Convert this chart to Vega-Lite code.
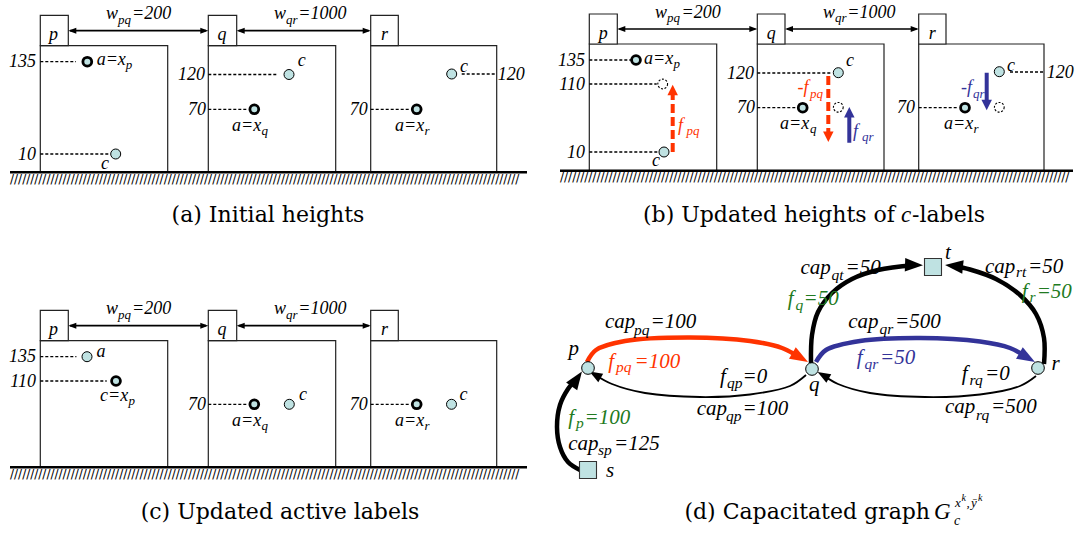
{
"$schema":"https://vega.github.io/schema/vega-lite/v6.json",
"width":1081,"height":534,"padding":0,"autosize":{"type":"none"},
"background":"#ffffff",
"config":{"view":{"stroke":null}},
"datasets":{
"boxes":[
{"x":40.3,"x2":167.7,"y":45.7,"y2":172.3},{"x":40.3,"x2":68.3,"y":15.3,"y2":45.7},
{"x":208.3,"x2":335.7,"y":45.7,"y2":172.3},{"x":208.3,"x2":236.7,"y":15.3,"y2":45.7},
{"x":370.7,"x2":496.7,"y":45.7,"y2":172.3},{"x":370.7,"x2":398.3,"y":15.3,"y2":45.7},
{"x":589.3,"x2":716.7,"y":44,"y2":170.7},{"x":589.3,"x2":617.3,"y":14,"y2":44},
{"x":757.3,"x2":884,"y":44,"y2":170.7},{"x":757.3,"x2":785,"y":14,"y2":44},
{"x":918.7,"x2":1044,"y":44,"y2":170.7},{"x":918.7,"x2":946,"y":14,"y2":44},
{"x":40.3,"x2":167.7,"y":340.7,"y2":467.3},{"x":40.3,"x2":68.3,"y":310.3,"y2":340.7},
{"x":208.3,"x2":335.7,"y":340.7,"y2":467.3},{"x":208.3,"x2":236.7,"y":310.3,"y2":340.7},
{"x":370.7,"x2":496.7,"y":340.7,"y2":467.3},{"x":370.7,"x2":398.3,"y":310.3,"y2":340.7}
],
"ground":[{"x":10,"x2":527,"y":172.3},{"x":560,"x2":1073,"y":170.7},{"x":10,"x2":527,"y":467.3}],
"dotted":[
{"x":40.3,"x2":76,"y":61.7},{"x":40.3,"x2":110,"y":154},{"x":208.3,"x2":277,"y":74.5},{"x":208.3,"x2":246.7,"y":109.3},{"x":370.7,"x2":410,"y":109.3},{"x":461.7,"x2":496.7,"y":74},
{"x":589.3,"x2":631,"y":60},{"x":589.3,"x2":656.7,"y":84},{"x":589.3,"x2":658,"y":152},{"x":757.3,"x2":831.7,"y":73},{"x":757.3,"x2":796.7,"y":107.7},{"x":918.7,"x2":958.3,"y":107.7},{"x":1010,"x2":1044,"y":72},
{"x":40.3,"x2":76.4,"y":356.7},{"x":40.3,"x2":106.7,"y":381},{"x":208.3,"x2":246.7,"y":404.3},{"x":370.7,"x2":410,"y":404.3}
],
"wlines":[
{"x":70,"x2":206,"y":30.7},{"x":238.7,"x2":368.7,"y":30.7},
{"x":619.3,"x2":755.3,"y":29},{"x":787,"x2":916.7,"y":29},
{"x":70,"x2":206,"y":325.7},{"x":238.7,"x2":368.7,"y":325.7}
],
"flows":[
{"x":672.7,"y":152,"y2":95,"c":"fpq","ls":"dash"},
{"x":828.3,"y":76,"y2":132,"c":"fpq","ls":"dash"},
{"x":849.3,"y":142.7,"y2":116,"c":"fqr","ls":"solid"},
{"x":986.7,"y":72.7,"y2":101,"c":"fqr","ls":"solid"}
],
"edges":[
{"e":"sp","o":1,"x":580,"y":470,"c":"base","wt":"heavy"},{"e":"sp","o":2,"x":568,"y":462,"c":"base","wt":"heavy"},{"e":"sp","o":3,"x":560,"y":447,"c":"base","wt":"heavy"},{"e":"sp","o":4,"x":557,"y":427,"c":"base","wt":"heavy"},{"e":"sp","o":5,"x":560,"y":405,"c":"base","wt":"heavy"},{"e":"sp","o":6,"x":568,"y":389,"c":"base","wt":"heavy"},{"e":"sp","o":7,"x":576.5,"y":379,"c":"base","wt":"heavy"},
{"e":"pq","o":1,"x":587,"y":362,"c":"fpq","wt":"heavy"},{"e":"pq","o":2,"x":596,"y":350,"c":"fpq","wt":"heavy"},{"e":"pq","o":3,"x":625,"y":341,"c":"fpq","wt":"heavy"},{"e":"pq","o":4,"x":690,"y":337.5,"c":"fpq","wt":"heavy"},{"e":"pq","o":5,"x":750,"y":341,"c":"fpq","wt":"heavy"},{"e":"pq","o":6,"x":782,"y":348,"c":"fpq","wt":"heavy"},{"e":"pq","o":7,"x":800.2,"y":357.5,"c":"fpq","wt":"heavy"},
{"e":"qp","o":1,"x":806,"y":375,"c":"base","wt":"light"},{"e":"qp","o":2,"x":790,"y":386,"c":"base","wt":"light"},{"e":"qp","o":3,"x":750,"y":394.5,"c":"base","wt":"light"},{"e":"qp","o":4,"x":700,"y":397,"c":"base","wt":"light"},{"e":"qp","o":5,"x":645,"y":393,"c":"base","wt":"light"},{"e":"qp","o":6,"x":612,"y":384,"c":"base","wt":"light"},{"e":"qp","o":7,"x":595,"y":374.7,"c":"base","wt":"light"},
{"e":"qr","o":1,"x":816,"y":362,"c":"fqr","wt":"heavy"},{"e":"qr","o":2,"x":826,"y":350,"c":"fqr","wt":"heavy"},{"e":"qr","o":3,"x":860,"y":341,"c":"fqr","wt":"heavy"},{"e":"qr","o":4,"x":920,"y":338,"c":"fqr","wt":"heavy"},{"e":"qr","o":5,"x":980,"y":341.5,"c":"fqr","wt":"heavy"},{"e":"qr","o":6,"x":1010,"y":348,"c":"fqr","wt":"heavy"},{"e":"qr","o":7,"x":1027.2,"y":357.5,"c":"fqr","wt":"heavy"},
{"e":"rq","o":1,"x":1036,"y":376,"c":"base","wt":"light"},{"e":"rq","o":2,"x":1020,"y":386,"c":"base","wt":"light"},{"e":"rq","o":3,"x":980,"y":394.5,"c":"base","wt":"light"},{"e":"rq","o":4,"x":925,"y":397,"c":"base","wt":"light"},{"e":"rq","o":5,"x":870,"y":393,"c":"base","wt":"light"},{"e":"rq","o":6,"x":838,"y":384,"c":"base","wt":"light"},{"e":"rq","o":7,"x":823,"y":375.2,"c":"base","wt":"light"},
{"e":"qt","o":1,"x":811,"y":363,"c":"base","wt":"heavy"},{"e":"qt","o":2,"x":812,"y":335,"c":"base","wt":"heavy"},{"e":"qt","o":3,"x":818,"y":312,"c":"base","wt":"heavy"},{"e":"qt","o":4,"x":832,"y":293,"c":"base","wt":"heavy"},{"e":"qt","o":5,"x":852,"y":279,"c":"base","wt":"heavy"},{"e":"qt","o":6,"x":878,"y":270,"c":"base","wt":"heavy"},{"e":"qt","o":7,"x":914,"y":265.3,"c":"base","wt":"heavy"},
{"e":"rt","o":1,"x":1044,"y":364,"c":"base","wt":"heavy"},{"e":"rt","o":2,"x":1044,"y":338,"c":"base","wt":"heavy"},{"e":"rt","o":3,"x":1036,"y":314,"c":"base","wt":"heavy"},{"e":"rt","o":4,"x":1020,"y":295,"c":"base","wt":"heavy"},{"e":"rt","o":5,"x":996,"y":279,"c":"base","wt":"heavy"},{"e":"rt","o":6,"x":970,"y":269.5,"c":"base","wt":"heavy"},{"e":"rt","o":7,"x":954,"y":266,"c":"base","wt":"heavy"}
],
"heads":[
{"x":72.3,"y":30.7,"ang":270,"hk":"w","c":"base"},{"x":204.3,"y":30.7,"ang":90,"hk":"w","c":"base"},{"x":240.7,"y":30.7,"ang":270,"hk":"w","c":"base"},{"x":366.7,"y":30.7,"ang":90,"hk":"w","c":"base"},
{"x":621.3,"y":29,"ang":270,"hk":"w","c":"base"},{"x":753.3,"y":29,"ang":90,"hk":"w","c":"base"},{"x":789,"y":29,"ang":270,"hk":"w","c":"base"},{"x":914.7,"y":29,"ang":90,"hk":"w","c":"base"},
{"x":72.3,"y":325.7,"ang":270,"hk":"w","c":"base"},{"x":204.3,"y":325.7,"ang":90,"hk":"w","c":"base"},{"x":240.7,"y":325.7,"ang":270,"hk":"w","c":"base"},{"x":366.7,"y":325.7,"ang":90,"hk":"w","c":"base"},
{"x":576.8,"y":378.9,"ang":35,"hk":"big","c":"base"},
{"x":800.2,"y":357.5,"ang":120,"hk":"big","c":"fpq"},
{"x":1027.2,"y":357.5,"ang":120,"hk":"big","c":"fqr"},
{"x":914,"y":265,"ang":92,"hk":"big","c":"base"},
{"x":954,"y":266,"ang":276,"hk":"big","c":"base"},
{"x":595.1,"y":374.7,"ang":300,"hk":"thin","c":"base"},
{"x":823.2,"y":375.2,"ang":300,"hk":"thin","c":"base"}
],
"fheads":[
{"x":672.7,"y":90,"ang":0,"c":"fpq"},{"x":828.3,"y":136.7,"ang":180,"c":"fpq"},
{"x":849.3,"y":112.3,"ang":0,"c":"fqr"},{"x":986.7,"y":105,"ang":180,"c":"fqr"}
],
"dots":[
{"x":87.3,"y":61.7,"k":"act"},{"x":115.7,"y":154,"k":"pl"},{"x":289,"y":74.5,"k":"pl"},{"x":254.3,"y":109.3,"k":"act"},{"x":451.7,"y":74,"k":"pl"},{"x":416.7,"y":109.3,"k":"act"},
{"x":636,"y":60,"k":"act"},{"x":662.7,"y":84,"k":"gh"},{"x":664,"y":152,"k":"pl"},{"x":838.3,"y":72.7,"k":"pl"},{"x":802.7,"y":107.7,"k":"act"},{"x":838.3,"y":107.3,"k":"gh"},{"x":965,"y":107.7,"k":"act"},{"x":999.3,"y":71.7,"k":"pl"},{"x":999.3,"y":107.3,"k":"gh"},
{"x":87,"y":356.7,"k":"pl"},{"x":116,"y":381,"k":"act"},{"x":254.3,"y":404.3,"k":"act"},{"x":289.3,"y":404.3,"k":"pl"},{"x":416.7,"y":404.3,"k":"act"},{"x":451.5,"y":404.3,"k":"pl"},
{"x":588,"y":368,"k":"node"},{"x":812,"y":369,"k":"node"},{"x":1038,"y":368,"k":"node"}
],
"squares":[{"x":588,"y":470},{"x":933,"y":267}],
"texts":[
{"x":53.5,"y":40,"t":"p","r":"b"},{"x":222,"y":40,"t":"q","r":"b"},{"x":384.5,"y":40,"t":"r","r":"b"},
{"x":106,"y":19,"t":"w","r":"m"},{"x":118,"y":23.5,"t":"pq","r":"s"},{"x":132,"y":19,"t":"=200","r":"m"},
{"x":274,"y":19,"t":"w","r":"m"},{"x":286,"y":23.5,"t":"qr","r":"s"},{"x":298.3,"y":19,"t":"=1000","r":"m"},
{"x":36,"y":67.3,"t":"135","r":"n"},{"x":36,"y":159.8,"t":"10","r":"n"},
{"x":205,"y":80.3,"t":"120","r":"n"},{"x":206,"y":115,"t":"70","r":"n"},{"x":367.7,"y":115,"t":"70","r":"n"},
{"x":497.7,"y":79.8,"t":"120","r":"m"},
{"x":96.7,"y":65,"t":"a=x","r":"m"},{"x":125.8,"y":69,"t":"p","r":"s"},
{"x":101,"y":168.5,"t":"c","r":"m"},
{"x":297.7,"y":66,"t":"c","r":"m"},
{"x":232,"y":130.5,"t":"a=x","r":"m"},{"x":261.5,"y":134.5,"t":"q","r":"s"},
{"x":460,"y":71.5,"t":"c","r":"m"},
{"x":395,"y":130.5,"t":"a=x","r":"m"},{"x":424.5,"y":134.5,"t":"r","r":"s"},
{"x":603.3,"y":38.5,"t":"p","r":"b"},{"x":771.2,"y":38.5,"t":"q","r":"b"},{"x":932.3,"y":38.5,"t":"r","r":"b"},
{"x":655,"y":17.5,"t":"w","r":"m"},{"x":667,"y":22,"t":"pq","r":"s"},{"x":681.5,"y":17.5,"t":"=200","r":"m"},
{"x":823,"y":17.5,"t":"w","r":"m"},{"x":835,"y":22,"t":"qr","r":"s"},{"x":847.3,"y":17.5,"t":"=1000","r":"m"},
{"x":585,"y":65.6,"t":"135","r":"n"},{"x":585,"y":89.6,"t":"110","r":"n"},{"x":585,"y":157.6,"t":"10","r":"n"},
{"x":644,"y":63.5,"t":"a=x","r":"m"},{"x":673.5,"y":67.5,"t":"p","r":"s"},
{"x":652,"y":166,"t":"c","r":"m"},
{"x":678,"y":131,"t":"f","r":"m","c":"fpq"},{"x":686.5,"y":135,"t":"pq","r":"s","c":"fpq"},
{"x":754,"y":78.6,"t":"120","r":"n"},{"x":755,"y":113.3,"t":"70","r":"n"},
{"x":846,"y":66,"t":"c","r":"m"},
{"x":780,"y":129,"t":"a=x","r":"m"},{"x":810,"y":133,"t":"q","r":"s"},
{"x":797.5,"y":93,"t":"-f","r":"m","c":"fpq"},{"x":810,"y":97.5,"t":"pq","r":"s","c":"fpq"},
{"x":853,"y":137,"t":"f","r":"m","c":"fqr"},{"x":862,"y":141,"t":"qr","r":"s","c":"fqr"},
{"x":915,"y":113.3,"t":"70","r":"n"},
{"x":944,"y":129,"t":"a=x","r":"m"},{"x":973.5,"y":133,"t":"r","r":"s"},
{"x":961,"y":93,"t":"-f","r":"m","c":"fqr"},{"x":973,"y":97.5,"t":"qr","r":"s","c":"fqr"},
{"x":1007,"y":70.5,"t":"c","r":"m"},
{"x":1046.7,"y":77.6,"t":"120","r":"m"},
{"x":53.5,"y":335,"t":"p","r":"b"},{"x":222,"y":335,"t":"q","r":"b"},{"x":384.5,"y":335,"t":"r","r":"b"},
{"x":106,"y":314,"t":"w","r":"m"},{"x":118,"y":318.5,"t":"pq","r":"s"},{"x":132,"y":314,"t":"=200","r":"m"},
{"x":274,"y":314,"t":"w","r":"m"},{"x":286,"y":318.5,"t":"qr","r":"s"},{"x":298.3,"y":314,"t":"=1000","r":"m"},
{"x":36,"y":362.3,"t":"135","r":"n"},{"x":36,"y":386.6,"t":"110","r":"n"},
{"x":96.5,"y":357,"t":"a","r":"m"},
{"x":100,"y":401,"t":"c=x","r":"m"},{"x":128.5,"y":405,"t":"p","r":"s"},
{"x":206,"y":410,"t":"70","r":"n"},
{"x":232,"y":425.5,"t":"a=x","r":"m"},{"x":261.5,"y":429.5,"t":"q","r":"s"},
{"x":299,"y":400,"t":"c","r":"m"},
{"x":367.7,"y":410,"t":"70","r":"n"},
{"x":395,"y":425.5,"t":"a=x","r":"m"},{"x":424.5,"y":429.5,"t":"r","r":"s"},
{"x":459.5,"y":400,"t":"c","r":"m"},
{"x":568.5,"y":355,"t":"p","r":"M"},{"x":809,"y":390.5,"t":"q","r":"M"},{"x":1051.5,"y":370,"t":"r","r":"M"},{"x":606,"y":477,"t":"s","r":"M"},{"x":945,"y":258.5,"t":"t","r":"M"},
{"x":605,"y":328.3,"t":"cap","r":"M"},{"x":634,"y":334.5,"t":"pq","r":"S"},{"x":650.5,"y":328.3,"t":"=100","r":"M"},
{"x":608.3,"y":367.5,"t":"f","r":"M","c":"fpq"},{"x":616,"y":372,"t":"pq","r":"S","c":"fpq"},{"x":634.5,"y":367.5,"t":"=100","r":"M","c":"fpq"},
{"x":720,"y":382.5,"t":"f","r":"M"},{"x":727,"y":387.5,"t":"qp","r":"S"},{"x":742.5,"y":382.5,"t":"=0","r":"M"},
{"x":696.7,"y":415,"t":"cap","r":"M"},{"x":726,"y":421,"t":"qp","r":"S"},{"x":742.5,"y":415,"t":"=100","r":"M"},
{"x":568.3,"y":423.5,"t":"f","r":"M","c":"fnode"},{"x":576,"y":428,"t":"p","r":"S","c":"fnode"},{"x":584.5,"y":423.5,"t":"=100","r":"M","c":"fnode"},
{"x":568.3,"y":449.5,"t":"cap","r":"M"},{"x":598,"y":454.5,"t":"sp","r":"S"},{"x":614,"y":449.5,"t":"=125","r":"M"},
{"x":800.5,"y":274,"t":"cap","r":"M"},{"x":831.5,"y":279.5,"t":"qt","r":"S"},{"x":845.5,"y":274,"t":"=50","r":"M"},
{"x":787.8,"y":305,"t":"f","r":"M","c":"fnode"},{"x":795.5,"y":309.5,"t":"q","r":"S","c":"fnode"},{"x":803.5,"y":305,"t":"=50","r":"M","c":"fnode"},
{"x":985,"y":272.5,"t":"cap","r":"M"},{"x":1016,"y":277,"t":"rt","r":"S"},{"x":1028,"y":272.5,"t":"=50","r":"M"},
{"x":1021.7,"y":297.5,"t":"f","r":"M","c":"fnode"},{"x":1029.5,"y":302,"t":"r","r":"S","c":"fnode"},{"x":1036.7,"y":297.5,"t":"=50","r":"M","c":"fnode"},
{"x":848.3,"y":328,"t":"cap","r":"M"},{"x":879.5,"y":334,"t":"qr","r":"S"},{"x":895,"y":328,"t":"=500","r":"M"},
{"x":856.7,"y":364,"t":"f","r":"M","c":"fqr"},{"x":864.5,"y":368.5,"t":"qr","r":"S","c":"fqr"},{"x":880,"y":364,"t":"=50","r":"M","c":"fqr"},
{"x":961.7,"y":380,"t":"f","r":"M"},{"x":969.5,"y":385,"t":"rq","r":"S"},{"x":985,"y":380,"t":"=0","r":"M"},
{"x":945,"y":413.3,"t":"cap","r":"M"},{"x":976,"y":419.5,"t":"rq","r":"S"},{"x":991,"y":413.3,"t":"=500","r":"M"},
{"x":268,"y":222,"t":"(a) Initial heights","r":"capC"},
{"x":895,"y":222,"t":"(b) Updated heights of","r":"capR"},{"x":901,"y":222,"t":"c","r":"gi"},{"x":912,"y":222,"t":"-labels","r":"cap"},
{"x":280,"y":519,"t":"(c) Updated active labels","r":"capC"},
{"x":930,"y":519,"t":"(d) Capacitated graph","r":"capR"},{"x":934,"y":519,"t":"G","r":"gi"},{"x":954,"y":525,"t":"c","r":"gs"},
{"x":955,"y":507,"t":"x","r":"gp"},{"x":961.5,"y":501,"t":"k","r":"gk"},{"x":966.5,"y":507,"t":",","r":"gp"},{"x":971,"y":507,"t":"ȳ","r":"gp"},{"x":978,"y":501,"t":"k","r":"gk"}
]
},
"encoding":{
"x":{"field":"x","type":"quantitative","axis":null,"scale":{"domain":[0,1081],"nice":false,"zero":false}},
"y":{"field":"y","type":"quantitative","axis":null,"scale":{"domain":[0,534],"reverse":true,"nice":false,"zero":false}}
},
"layer":[
{"data":{"name":"boxes"},"mark":{"type":"rect","fill":"#ffffff","stroke":"#222222","strokeWidth":1.2},"encoding":{"x2":{"field":"x2"},"y2":{"field":"y2"}}},
{"data":{"name":"ground"},"mark":{"type":"rule","stroke":"#000000","strokeWidth":2.6},"encoding":{"x2":{"field":"x2"}}},
{"data":{"name":"ground"},"mark":{"type":"text","text":"//////////////////////////////////////////////////////////////////////////////////////////////////////////////////////////////","font":"DejaVu Sans","fontSize":12,"align":"left","baseline":"alphabetic","dy":10.5,"color":"#000000"}},
{"data":{"name":"dotted"},"mark":{"type":"rule","stroke":"#000000","strokeWidth":1.3,"strokeDash":[3,2]},"encoding":{"x2":{"field":"x2"}}},
{"data":{"name":"wlines"},"mark":{"type":"rule","stroke":"#000000","strokeWidth":1.7},"encoding":{"x2":{"field":"x2"}}},
{"data":{"name":"flows"},"mark":{"type":"rule","strokeWidth":4,"strokeCap":"butt","opacity":1},"encoding":{"y2":{"field":"y2"},
 "color":{"condition":[{"test":"datum.c==='fpq'","value":"#ff3300"},{"test":"datum.c==='fqr'","value":"#333399"}],"value":"#000000"},
 "strokeDash":{"condition":{"test":"datum.ls==='dash'","value":[9,4]},"value":[1,0]}}},
{"data":{"name":"edges"},"mark":{"type":"line","interpolate":"catmull-rom","strokeCap":"butt","opacity":1},"encoding":{"detail":{"field":"e"},"order":{"field":"o","type":"quantitative"},
 "color":{"condition":[{"test":"datum.c==='fpq'","value":"#ff3300"},{"test":"datum.c==='fqr'","value":"#333399"}],"value":"#000000"},
 "strokeWidth":{"condition":{"test":"datum.wt==='heavy'","value":4.5},"value":1.8}}},
{"data":{"name":"heads"},"mark":{"type":"point","shape":"M0,-1L0.75,1L-0.75,1Z","filled":true,"opacity":1,"strokeWidth":0},"encoding":{
 "angle":{"field":"ang","type":"quantitative","scale":null},
 "size":{"condition":[{"test":"datum.hk==='big'","value":324},{"test":"datum.hk==='thin'","value":169}],"value":64},
 "color":{"condition":[{"test":"datum.c==='fpq'","value":"#ff3300"},{"test":"datum.c==='fqr'","value":"#333399"}],"value":"#000000"}}},
{"data":{"name":"fheads"},"mark":{"type":"point","shape":"M0,-1L1,1L-1,1Z","filled":true,"opacity":1,"strokeWidth":0,"size":110},"encoding":{
 "angle":{"field":"ang","type":"quantitative","scale":null},
 "color":{"condition":[{"test":"datum.c==='fpq'","value":"#ff3300"},{"test":"datum.c==='fqr'","value":"#333399"}],"value":"#000000"}}},
{"data":{"name":"dots"},"transform":[{"filter":"datum.k!=='gh'"}],"mark":{"type":"point","shape":"circle","filled":true,"fill":"#bfe2e2","stroke":"#000000","opacity":1},"encoding":{
 "size":{"condition":[{"test":"datum.k==='act'","value":78},{"test":"datum.k==='node'","value":160}],"value":100},
 "strokeWidth":{"condition":{"test":"datum.k==='act'","value":2.8},"value":1}}},
{"data":{"name":"dots"},"transform":[{"filter":"datum.k==='gh'"}],"mark":{"type":"point","shape":"circle","filled":false,"fill":"#ffffff","stroke":"#000000","strokeWidth":1.1,"strokeDash":[2,1.6],"size":95,"opacity":1}},
{"data":{"name":"squares"},"mark":{"type":"point","shape":"square","filled":true,"fill":"#bfe2e2","stroke":"#333333","strokeWidth":1.1,"size":289,"opacity":1}},
{"data":{"name":"texts"},"transform":[{"filter":"datum.r!=='n' && datum.r!=='b' && datum.r!=='cap' && datum.r!=='capR' && datum.r!=='capC'"}],"mark":{"type":"text","font":"Liberation Serif","fontStyle":"italic","align":"left","baseline":"alphabetic"},"encoding":{
 "text":{"field":"t","type":"nominal"},
 "size":{"condition":[{"test":"datum.r==='s'","value":13},{"test":"datum.r==='M'","value":21},{"test":"datum.r==='S'","value":15.5},{"test":"datum.r==='gi'","value":23},{"test":"datum.r==='gs'","value":14},{"test":"datum.r==='gp'","value":13},{"test":"datum.r==='gk'","value":10}],"value":18},
 "color":{"condition":[{"test":"datum.c==='fpq'","value":"#ff3300"},{"test":"datum.c==='fqr'","value":"#333399"},{"test":"datum.c==='fnode'","value":"#217a21"}],"value":"#000000"}}},
{"data":{"name":"texts"},"transform":[{"filter":"datum.r==='n'"}],"mark":{"type":"text","font":"Liberation Serif","fontStyle":"italic","align":"right","baseline":"alphabetic","fontSize":18,"color":"#000000"},"encoding":{"text":{"field":"t","type":"nominal"}}},
{"data":{"name":"texts"},"transform":[{"filter":"datum.r==='b'"}],"mark":{"type":"text","font":"Liberation Serif","fontStyle":"italic","align":"center","baseline":"alphabetic","fontSize":18,"color":"#000000"},"encoding":{"text":{"field":"t","type":"nominal"}}},
{"data":{"name":"texts"},"transform":[{"filter":"datum.r==='cap'"}],"mark":{"type":"text","font":"DejaVu Serif","align":"left","baseline":"alphabetic","fontSize":22,"color":"#000000"},"encoding":{"text":{"field":"t","type":"nominal"}}},
{"data":{"name":"texts"},"transform":[{"filter":"datum.r==='capR'"}],"mark":{"type":"text","font":"DejaVu Serif","align":"right","baseline":"alphabetic","fontSize":22,"color":"#000000"},"encoding":{"text":{"field":"t","type":"nominal"}}},
{"data":{"name":"texts"},"transform":[{"filter":"datum.r==='capC'"}],"mark":{"type":"text","font":"DejaVu Serif","align":"center","baseline":"alphabetic","fontSize":22,"color":"#000000"},"encoding":{"text":{"field":"t","type":"nominal"}}}
]
}
